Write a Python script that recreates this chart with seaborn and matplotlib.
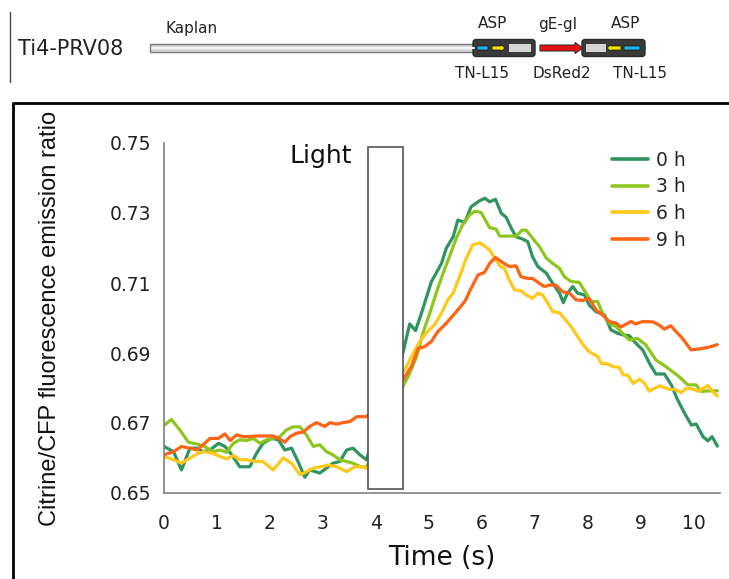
import numpy as np
import pandas as pd
import matplotlib
matplotlib.use("Agg")
import matplotlib.pyplot as plt
import seaborn as sns
from matplotlib.patches import Rectangle, FancyBboxPatch, FancyArrow
from matplotlib.lines import Line2D

# ---------------- data ----------------
series_names = ["0 h", "3 h", "6 h", "9 h"]
series_colors = ["#2E9460", "#8DC71E", "#FFC81A", "#FF6414"]

t_0h = [0.00, 0.18, 0.33, 0.49, 0.62, 0.74, 0.87, 1.03, 1.15, 1.28, 1.43, 1.62, 1.75, 1.87, 2.03,
        2.16, 2.28, 2.41, 2.53, 2.66, 2.75, 2.94, 3.07, 3.19, 3.32, 3.45, 3.57, 3.70, 3.82,
        4.51, 4.64, 4.75, 4.86, 4.96, 5.05, 5.14, 5.24, 5.33, 5.46, 5.55, 5.68, 5.80, 5.96,
        6.06, 6.15, 6.26, 6.37, 6.46, 6.56, 6.65, 6.78, 6.87, 6.96, 7.06, 7.22, 7.34, 7.47,
        7.54, 7.62, 7.72, 7.81, 7.94, 8.03, 8.16, 8.32, 8.44, 8.57, 8.66, 8.79, 8.91, 9.04,
        9.17, 9.29, 9.45, 9.58, 9.70, 9.83, 9.96, 10.05, 10.18, 10.27, 10.35, 10.45]
v_0h = [0.6633, 0.6618, 0.6566, 0.6628, 0.6628, 0.6618, 0.6623, 0.6642, 0.6633, 0.6609, 0.6575,
        0.6575, 0.6614, 0.6642, 0.6656, 0.6652, 0.6623, 0.6628, 0.6590, 0.6545, 0.6566, 0.6557,
        0.6571, 0.6585, 0.6590, 0.6623, 0.6628, 0.6609, 0.6595,
        0.6899, 0.6983, 0.6964, 0.7013, 0.7061, 0.7104, 0.7128, 0.7156, 0.7199, 0.7232, 0.7280,
        0.7273, 0.7318, 0.7335, 0.7342, 0.7332, 0.7339, 0.7299, 0.7288, 0.7256, 0.7232, 0.7225,
        0.7218, 0.7175, 0.7147, 0.7128, 0.7099, 0.7071, 0.7044, 0.7071, 0.7090, 0.7071, 0.7066,
        0.7037, 0.7018, 0.7009, 0.6966, 0.6956, 0.6952, 0.6949, 0.6928, 0.6909, 0.6870, 0.6840,
        0.6840, 0.6809, 0.6766, 0.6728, 0.6694, 0.6697, 0.6661, 0.6649, 0.6661, 0.6634]

t_3h = [0.00, 0.14, 0.30, 0.46, 0.62, 0.77, 0.93, 1.06, 1.18, 1.31, 1.43, 1.56, 1.69, 1.81, 1.94,
        2.06, 2.19, 2.31, 2.44, 2.57, 2.69, 2.82, 2.94, 3.07, 3.19, 3.32, 3.45, 3.57, 3.70, 3.82,
        4.51, 4.64, 4.77, 4.89, 5.02, 5.14, 5.27, 5.39, 5.52, 5.64, 5.77, 5.86, 5.93, 5.99,
        6.15, 6.27, 6.34, 6.52, 6.65, 6.76, 6.84, 6.96, 7.09, 7.22, 7.34, 7.47, 7.56, 7.69,
        7.84, 7.97, 8.06, 8.19, 8.28, 8.41, 8.54, 8.66, 8.79, 8.94, 9.10, 9.29, 9.48, 9.73,
        9.89, 10.05, 10.14, 10.30, 10.45]
v_3h = [0.6693, 0.6710, 0.6680, 0.6645, 0.6640, 0.6633, 0.6618, 0.6623, 0.6616, 0.6642, 0.6652,
        0.6650, 0.6656, 0.6642, 0.6652, 0.6656, 0.6661, 0.6680, 0.6689, 0.6689, 0.6666, 0.6633,
        0.6638, 0.6618, 0.6609, 0.6595, 0.6590, 0.6585, 0.6576, 0.6573,
        0.6804, 0.6842, 0.6890, 0.6957, 0.7014, 0.7071, 0.7128, 0.7175, 0.7228, 0.7266, 0.7294,
        0.7304, 0.7304, 0.7301, 0.7258, 0.7254, 0.7234, 0.7234, 0.7234, 0.7251, 0.7251, 0.7228,
        0.7204, 0.7171, 0.7156, 0.7142, 0.7118, 0.7104, 0.7102, 0.7071, 0.7047, 0.7047, 0.7014,
        0.6985, 0.6975, 0.6956, 0.6937, 0.6942, 0.6923, 0.6880, 0.6861, 0.6832, 0.6809, 0.6809,
        0.6790, 0.6792, 0.6792]

t_6h = [0.00, 0.18, 0.33, 0.49, 0.65, 0.77, 0.90, 1.06, 1.18, 1.31, 1.43, 1.56, 1.72, 1.87, 2.06,
        2.25, 2.41, 2.57, 2.69, 2.82, 2.97, 3.10, 3.26, 3.45, 3.60, 3.73, 3.86,
        4.51, 4.64, 4.83, 4.95, 5.11, 5.24, 5.36, 5.46, 5.58, 5.71, 5.83, 5.96,
        6.05, 6.15, 6.27, 6.34, 6.43, 6.52, 6.62, 6.74, 6.84, 6.96, 7.06, 7.15, 7.25, 7.34,
        7.47, 7.56, 7.69, 7.81, 7.94, 8.03, 8.19, 8.26, 8.38, 8.48, 8.60, 8.67, 8.76, 8.86,
        8.98, 9.08, 9.16, 9.36, 9.55, 9.64, 9.77, 9.86, 9.99, 10.08, 10.18, 10.27, 10.36, 10.45]
v_6h = [0.6604, 0.6595, 0.6585, 0.6600, 0.6614, 0.6618, 0.6614, 0.6604, 0.6598, 0.6607, 0.6595,
        0.6595, 0.6590, 0.6590, 0.6566, 0.6600, 0.6585, 0.6552, 0.6561, 0.6571, 0.6575, 0.6580,
        0.6575, 0.6561, 0.6575, 0.6575, 0.6569,
        0.6842, 0.6880, 0.6933, 0.6957, 0.6981, 0.7014, 0.7052, 0.7071, 0.7118, 0.7171, 0.7209,
        0.7215, 0.7206, 0.7194, 0.7166, 0.7149, 0.7142, 0.7109, 0.7080, 0.7078, 0.7066, 0.7056,
        0.7071, 0.7066, 0.7042, 0.7018, 0.7015, 0.6999, 0.6975, 0.6947, 0.6918, 0.6904, 0.6890,
        0.6870, 0.6869, 0.6861, 0.6859, 0.6837, 0.6837, 0.6813, 0.6825, 0.6813, 0.6791, 0.6806,
        0.6796, 0.6796, 0.6787, 0.6799, 0.6797, 0.6791, 0.6799, 0.6807, 0.6790, 0.6777]

t_9h = [0.00, 0.18, 0.33, 0.49, 0.62, 0.77, 0.87, 1.03, 1.15, 1.25, 1.37, 1.50, 1.62, 1.75, 1.87,
        2.06, 2.19, 2.28, 2.38, 2.50, 2.63, 2.75, 2.88, 3.04, 3.13, 3.26, 3.38, 3.51, 3.64, 3.82,
        4.51, 4.67, 4.80, 4.92, 5.05, 5.17, 5.33, 5.52, 5.68, 5.80, 5.93, 6.05, 6.15, 6.26,
        6.40, 6.52, 6.65, 6.74, 6.87, 6.96, 7.09, 7.18, 7.28, 7.40, 7.53, 7.66, 7.78, 7.91,
        8.03, 8.16, 8.28, 8.41, 8.54, 8.63, 8.72, 8.82, 8.91, 9.04, 9.23, 9.35, 9.45, 9.57,
        9.67, 9.79, 9.95, 10.08, 10.20, 10.30, 10.45]
v_9h = [0.6609, 0.6618, 0.6633, 0.6628, 0.6623, 0.6642, 0.6656, 0.6656, 0.6669, 0.6650, 0.6666,
        0.6661, 0.6661, 0.6663, 0.6663, 0.6663, 0.6654, 0.6645, 0.6661, 0.6671, 0.6674, 0.6690,
        0.6701, 0.6690, 0.6701, 0.6697, 0.6701, 0.6704, 0.6718, 0.6718,
        0.6823, 0.6861, 0.6913, 0.6918, 0.6933, 0.6961, 0.6985, 0.7018, 0.7047, 0.7085, 0.7123,
        0.7130, 0.7156, 0.7173, 0.7158, 0.7147, 0.7149, 0.7118, 0.7113, 0.7113, 0.7099, 0.7090,
        0.7094, 0.7094, 0.7075, 0.7071, 0.7052, 0.7050, 0.7056, 0.7023, 0.7009, 0.6990, 0.6985,
        0.6974, 0.6982, 0.6990, 0.6983, 0.6990, 0.6989, 0.6980, 0.6968, 0.6978, 0.6961, 0.6942,
        0.6909, 0.6911, 0.6914, 0.6917, 0.6924]

x_ticks = [0, 1, 2, 3, 4, 5, 6, 7, 8, 9, 10]
y_ticks = [0.65, 0.67, 0.69, 0.71, 0.73, 0.75]
light_start, light_end = 3.85, 4.51

# ---------------- figure ----------------
sns.set_style("white")
plt.rcParams["font.family"] = ["DejaVu Sans"]

frames = []
for name, tt, vv in zip(series_names, [t_0h, t_3h, t_6h, t_9h], [v_0h, v_3h, v_6h, v_9h]):
    frames.append(pd.DataFrame({"Time": tt, "Ratio": vv, "Series": name}))
df = pd.concat(frames, ignore_index=True)

fig = plt.figure(figsize=(7.29, 5.79), dpi=100)
ax = fig.add_axes([164 / 729, 1 - 493 / 579, (720 - 164) / 729, (493 - 143) / 579])

sns.lineplot(data=df, x="Time", y="Ratio", hue="Series", hue_order=series_names,
             palette=dict(zip(series_names, series_colors)), linewidth=2.3,
             sort=False, estimator=None, ax=ax, legend=False)

ax.set_xlim(0, 10.5)
ax.set_ylim(0.65, 0.75)
ax.set_xticks(x_ticks)
ax.set_yticks(y_ticks)
ax.set_yticklabels([f"{v:.2f}" for v in y_ticks])
for s in ["top", "right"]:
    ax.spines[s].set_visible(False)
for s in ["left", "bottom"]:
    ax.spines[s].set_color("#808080")
    ax.spines[s].set_linewidth(1.2)
ax.tick_params(axis="both", colors="#808080", labelcolor="#222222", labelsize=13.5,
               length=4, width=1.2, direction="out")
ax.tick_params(axis="x", pad=11)
ax.tick_params(axis="y", pad=5)
ax.set_xlabel("Time (s)", fontsize=19, color="#111111", labelpad=9)
ax.set_ylabel("Citrine/CFP fluorescence emission ratio", fontsize=17, color="#111111",
              family=["Liberation Sans", "DejaVu Sans"], labelpad=35)

# Light box
ax.add_patch(Rectangle((light_start, 0.6511), light_end - light_start, 0.0978,
                       facecolor="white", edgecolor="#555555", linewidth=1.2, zorder=5))
ax.text(3.55, 0.7462, "Light", ha="right", va="center", fontsize=18, color="#111111")

# legend
handles = [Line2D([0], [0], color=c, lw=2.6) for c in series_colors]
fig.legend(handles, series_names, loc="upper left", bbox_to_anchor=(612 / 729, 1 - 151 / 579),
           frameon=False, fontsize=13.5, handlelength=1.9, handletextpad=0.45,
           labelspacing=0.4, borderpad=0, borderaxespad=0)

# ---------------- overlay (schematic + frame) ----------------
ov = fig.add_axes([0, 0, 1, 1], facecolor="none")
ov.set_xlim(0, 729)
ov.set_ylim(579, 0)
ov.axis("off")

# frame around lower panel
ov.plot([13, 729], [103, 103], color="black", lw=2, solid_capstyle="butt")
ov.plot([13, 13], [102, 579], color="black", lw=2, solid_capstyle="butt")
# top vertical marker
ov.plot([10, 10], [12, 82], color="#444444", lw=1)

ov.text(18, 49, "Ti4-PRV08", fontsize=15, va="center", ha="left", color="#222222")
ov.text(166, 28, "Kaplan", fontsize=11, va="center", ha="left", color="#222222")

# rod
ov.add_patch(Rectangle((150, 44), 326, 8, facecolor="#d8d8d8", edgecolor="#7a7a7a", lw=1))
ov.plot([152, 474], [47.5, 47.5], color="#f4f4f4", lw=1.5)

# box 1
ov.add_patch(FancyBboxPatch((473, 39.5), 62, 17, boxstyle="round,pad=0,rounding_size=3",
                            facecolor="#3a3a3a", edgecolor="#2a2a2a", lw=1))
ov.add_patch(Rectangle((509, 44), 22, 8, facecolor="#d5d5d5", edgecolor="none"))
ov.add_patch(FancyArrow(477, 48, 12, 0, width=4, head_width=7, head_length=4,
                        length_includes_head=True, facecolor="#19b4e8", edgecolor="#111111", lw=0.5))
ov.add_patch(FancyArrow(492, 48, 13, 0, width=4, head_width=7, head_length=4,
                        length_includes_head=True, facecolor="#f2e600", edgecolor="#111111", lw=0.5))

# red arrow
ov.add_patch(FancyArrow(540, 48, 43, 0, width=6, head_width=11, head_length=8,
                        length_includes_head=True, facecolor="#e81010", edgecolor="#333333", lw=0.8))

# box 2
ov.add_patch(FancyBboxPatch((582, 39.5), 63, 17, boxstyle="round,pad=0,rounding_size=3",
                            facecolor="#3a3a3a", edgecolor="#2a2a2a", lw=1))
ov.add_patch(Rectangle((586, 44), 20, 8, facecolor="#d5d5d5", edgecolor="none"))
ov.add_patch(FancyArrow(621, 48, -14, 0, width=4, head_width=7, head_length=4,
                        length_includes_head=True, facecolor="#f2e600", edgecolor="#111111", lw=0.5))
ov.add_patch(FancyArrow(640, 48, -17, 0, width=4, head_width=7, head_length=4,
                        length_includes_head=True, facecolor="#19b4e8", edgecolor="#111111", lw=0.5))

for x, y, s in [(493, 24, "ASP"), (558, 24, "gE-gI"), (626, 24, "ASP"),
                (482, 73, "TN-L15"), (562, 73, "DsRed2"), (640, 73, "TN-L15")]:
    ov.text(x, y, s, fontsize=11, ha="center", va="center", color="#222222")

fig.savefig("out.png", dpi=100)
